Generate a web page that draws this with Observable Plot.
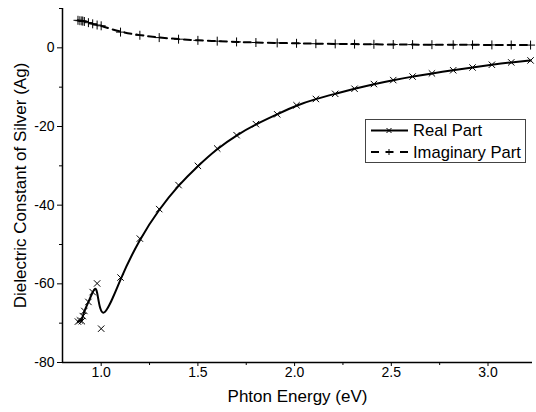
<!DOCTYPE html>
<html>
<head>
<meta charset="utf-8">
<script src="https://cdn.jsdelivr.net/npm/d3@7"></script>
<script src="https://cdn.jsdelivr.net/npm/@observablehq/plot@0.6"></script>
<style>
  html, body { margin: 0; padding: 0; background: #fff; }
  #chart { position: relative; width: 536px; height: 412px; font-family: "Liberation Sans", Arial, sans-serif; }
  #legend { position: absolute; left: 365px; top: 119px; }
</style>
</head>
<body>
<div id="chart"></div>
<script>
// Photon energy (eV) of each sample
const energy = [0.88, 0.89, 0.90, 0.905, 0.913, 0.934, 0.956, 0.979, 1.0,
  1.1, 1.2, 1.3, 1.4, 1.5, 1.6, 1.7, 1.8, 1.91, 2.01, 2.11, 2.21, 2.31, 2.41,
  2.51, 2.61, 2.71, 2.82, 2.92, 3.02, 3.12, 3.22];
// Real part of the permittivity of silver
const realPart = [-69.6, -69.3, -69.5, -68.2, -66.9, -64.6, -62.1, -59.9, -71.4,
  -58.4, -48.5, -41.0, -34.9, -30.0, -25.6, -22.2, -19.4, -16.9, -14.6, -13.0,
  -11.7, -10.4, -9.2, -8.2, -7.3, -6.5, -5.7, -5.0, -4.3, -3.7, -3.2];
// Imaginary part of the permittivity of silver
const imagPart = [7.0, 6.9, 6.85, 6.8, 6.7, 6.4, 6.1, 5.8, 5.6,
  4.0, 3.2, 2.6, 2.2, 1.9, 1.7, 1.5, 1.35, 1.25, 1.15, 1.05,
  1.0, 0.95, 0.9, 0.85, 0.82, 0.8, 0.78, 0.76, 0.74, 0.72, 0.7];

const xDomain = [0.8, 3.23];
const yDomain = [-80, 10];
const xMajor = [1.0, 1.5, 2.0, 2.5, 3.0];
const xMinor = [1.25, 1.75, 2.25, 2.75];
const yMajor = [-80, -60, -40, -20, 0];
const yMinor = [-70, -50, -30, -10, 10];

const seriesNames = ["Real Part", "Imaginary Part"];
const xLabel = "Phton Energy (eV)";
const yLabel = "Dielectric Constant of Silver (Ag)";

const realRows = energy.map((e, i) => ({e, v: realPart[i]}));
const imagRows = energy.map((e, i) => ({e, v: imagPart[i]}));

const chart = Plot.plot({
  width: 536,
  height: 412,
  marginLeft: 62,
  marginRight: 4,
  marginTop: 8,
  marginBottom: 50,
  style: {fontFamily: "'Liberation Sans', Arial, sans-serif", color: "#000", background: "#fff"},
  x: {domain: xDomain},
  y: {domain: yDomain},
  marks: [
    Plot.axisX({ticks: xMajor, tickSize: 4, tickPadding: 1, tickFormat: d => d.toFixed(1), label: null, fontSize: 14, strokeWidth: 1}),
    Plot.axisX({ticks: xMinor, tickSize: 3, tickFormat: () => "", label: null}),
    Plot.axisY({ticks: yMajor, tickSize: 5, tickPadding: 3, tickFormat: d => String(d), label: null, fontSize: 14}),
    Plot.axisY({ticks: yMinor, tickSize: 3, tickFormat: () => "", label: null}),
    Plot.ruleX([xDomain[0]], {strokeWidth: 1.5}),
    Plot.ruleY([yDomain[0]], {strokeWidth: 1.5}),
    Plot.text([xLabel], {frameAnchor: "bottom", textAnchor: "middle", lineAnchor: "middle", dy: 34, fontSize: 17, fill: "#000"}),
    Plot.text([yLabel], {frameAnchor: "left", textAnchor: "middle", lineAnchor: "middle", dx: -42, rotate: -90, fontSize: 17, fill: "#000"}),
    Plot.line(imagRows, {x: "e", y: "v", curve: "basis", stroke: "#000", strokeWidth: 2, strokeDasharray: "7,5"}),
    Plot.dot(imagRows, {x: "e", y: "v", symbol: "plus", r: 3, stroke: "#000", strokeWidth: 1}),
    Plot.line(realRows, {x: "e", y: "v", curve: "basis", stroke: "#000", strokeWidth: 2}),
    Plot.dot(realRows, {x: "e", y: "v", symbol: "times", r: 3, stroke: "#000", strokeWidth: 1})
  ]
});

const holder = document.getElementById("chart");
holder.appendChild(chart);

// Legend box with line samples for both series
const legend = d3.create("svg")
  .attr("id", "legend")
  .attr("width", 161)
  .attr("height", 44)
  .style("font-family", "'Liberation Sans', Arial, sans-serif");
legend.append("rect").attr("x", 0.5).attr("y", 0.5).attr("width", 160).attr("height", 43)
  .attr("fill", "#fff").attr("stroke", "#444").attr("stroke-width", 1);
const rowY = [11.5, 33];
seriesNames.forEach((name, i) => {
  const g = legend.append("g").attr("transform", `translate(0,${rowY[i]})`);
  if (i === 0) {
    g.append("line").attr("x1", 6).attr("x2", 43).attr("stroke", "#000").attr("stroke-width", 2);
    g.append("path").attr("d", "M21.5,-2.5L26.5,2.5M21.5,2.5L26.5,-2.5").attr("stroke", "#000").attr("stroke-width", 1);
  } else {
    g.append("line").attr("x1", 6).attr("x2", 43).attr("stroke", "#000").attr("stroke-width", 2).attr("stroke-dasharray", "8,6.5,8,6.5,8");
    g.append("path").attr("d", "M21,0H27M24,-3V3").attr("stroke", "#000").attr("stroke-width", 1);
  }
  g.append("text").attr("x", 48).attr("y", 0).attr("dy", "0.35em").attr("font-size", 16.6).text(name);
});
holder.appendChild(legend.node());
</script>
</body>
</html>
